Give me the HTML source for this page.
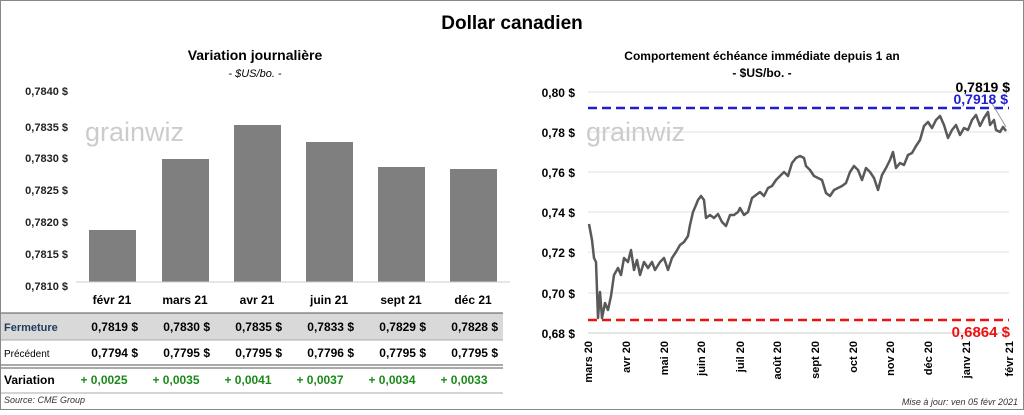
<!DOCTYPE html>
<html><head><meta charset="utf-8"><style>
body{margin:0;background:#fff;}
svg text{font-family:"Liberation Sans",Arial,sans-serif;}
</style></head><body>
<svg width="1024" height="410" xmlns="http://www.w3.org/2000/svg">
<rect x="0.5" y="0.5" width="1023" height="409" fill="#fff" stroke="#888"/>
<text x="512" y="29" font-size="19" font-weight="bold" text-anchor="middle">Dollar canadien</text>
<!-- LEFT -->
<text x="255" y="60" font-size="14" font-weight="bold" text-anchor="middle">Variation  journalière</text>
<text x="255" y="77" font-size="11" font-style="italic" text-anchor="middle">- $US/bo. -</text>
<g font-size="11" font-weight="bold" text-anchor="end" fill="#222">
<text x="68" y="95">0,7840 $</text><text x="68" y="131">0,7835 $</text><text x="68" y="162">0,7830 $</text>
<text x="68" y="194">0,7825 $</text><text x="68" y="226">0,7820 $</text><text x="68" y="258">0,7815 $</text><text x="68" y="290">0,7810 $</text>
</g>
<text x="85" y="141" font-size="27" fill="#ccc">grain</text><text x="145" y="141" font-size="27" fill="#ccc">wiz</text>
<g fill="#7f7f7f">
<rect x="89" y="230" width="47" height="52"/><rect x="162" y="159" width="47" height="123"/>
<rect x="234" y="125" width="47" height="157"/><rect x="306" y="142" width="47" height="140"/>
<rect x="378" y="167" width="47" height="115"/><rect x="450" y="169" width="47" height="113"/>
</g>
<line x1="76" y1="282" x2="510" y2="282" stroke="#ccc"/>
<g font-size="12" font-weight="bold" text-anchor="middle">
<text x="112" y="304">févr 21</text><text x="185" y="304">mars 21</text><text x="257" y="304">avr 21</text>
<text x="329" y="304">juin 21</text><text x="401" y="304">sept 21</text><text x="473" y="304">déc 21</text>
</g>
<rect x="1" y="313" width="502" height="27" fill="#d9d9d9"/>
<line x1="1" y1="313" x2="503" y2="313" stroke="#555"/>
<line x1="1" y1="340" x2="503" y2="340" stroke="#aaa"/>
<line x1="1" y1="365" x2="503" y2="365" stroke="#555"/><line x1="1" y1="368" x2="503" y2="368" stroke="#555"/>
<line x1="1" y1="393" x2="503" y2="393" stroke="#aaa"/>
<text x="4" y="331" font-size="11" font-weight="bold" fill="#1f3a5f">Fermeture</text>
<text x="4" y="357" font-size="10">Précédent</text>
<text x="4" y="384" font-size="12" font-weight="bold">Variation</text>
<g font-size="12" font-weight="bold" text-anchor="end">
<text x="138" y="331">0,7819  $</text><text x="210" y="331">0,7830  $</text><text x="282" y="331">0,7835  $</text><text x="354" y="331">0,7833  $</text><text x="426" y="331">0,7829  $</text><text x="498" y="331">0,7828  $</text>
<text x="138" y="357">0,7794  $</text><text x="210" y="357">0,7795  $</text><text x="282" y="357">0,7795  $</text><text x="354" y="357">0,7796  $</text><text x="426" y="357">0,7795  $</text><text x="498" y="357">0,7795  $</text>
</g>
<g font-size="12" font-weight="bold" fill="#1a8a1a" text-anchor="middle">
<text x="104" y="384">+ 0,0025</text><text x="176" y="384">+ 0,0035</text><text x="248" y="384">+ 0,0041</text><text x="320" y="384">+ 0,0037</text><text x="392" y="384">+ 0,0034</text><text x="464" y="384">+ 0,0033</text>
</g>
<text x="4" y="403" font-size="9" font-style="italic" fill="#333">Source: CME Group</text>
<!-- RIGHT -->
<text x="762" y="60" font-size="12" font-weight="bold" text-anchor="middle">Comportement échéance immédiate depuis 1 an</text>
<text x="762" y="77" font-size="12" font-weight="bold" text-anchor="middle">- $US/bo. -</text>
<g stroke="#e0e0e0"><line x1="588" y1="92" x2="1009" y2="92"/><line x1="588" y1="132" x2="1009" y2="132"/><line x1="588" y1="172" x2="1009" y2="172"/><line x1="588" y1="212" x2="1009" y2="212"/><line x1="588" y1="252" x2="1009" y2="252"/><line x1="588" y1="293" x2="1009" y2="293"/></g>
<line x1="588" y1="333" x2="1009" y2="333" stroke="#ccc"/>
<g font-size="12" font-weight="bold" text-anchor="end">
<text x="575" y="97">0,80 $</text><text x="575" y="137">0,78 $</text><text x="575" y="177">0,76 $</text><text x="575" y="217">0,74 $</text><text x="575" y="257">0,72 $</text><text x="575" y="298">0,70 $</text><text x="575" y="338">0,68 $</text>
</g>
<text x="586" y="141" font-size="27" fill="#ccc">grain</text><text x="646" y="141" font-size="27" fill="#ccc">wiz</text>
<line x1="588" y1="108" x2="1009" y2="108" stroke="#1f1fcf" stroke-width="2.5" stroke-dasharray="9,5"/>
<line x1="588" y1="320" x2="1009" y2="320" stroke="#f01010" stroke-width="2.5" stroke-dasharray="9,5"/>
<polyline fill="none" stroke="#595959" stroke-width="2.5" stroke-linejoin="round" points="589,224 592,240 594,258 596,262 598,318 600,292 602,318 605,303 608,310 611,296 614,275 618,268 621,275 624,258 628,262 631,250 634,270 637,260 640,275 644,262 648,268 652,262 655,270 660,262 664,258 668,270 672,258 676,252 680,245 684,242 688,236 690,225 693,212 696,205 698,200 701,196 704,200 706,218 710,215 714,218 718,214 722,222 726,226 730,215 734,215 738,212 740,208 744,215 748,212 752,198 756,195 760,192 764,196 768,188 772,186 776,180 780,176 784,172 788,176 792,163 796,158 800,156 804,158 806,166 810,170 814,176 818,178 822,180 826,193 830,196 834,190 838,188 842,186 846,183 850,172 854,166 858,170 862,180 866,168 870,172 874,178 878,190 882,175 886,168 890,160 893,152 896,168 900,163 904,165 908,155 912,153 916,146 920,140 924,126 928,122 932,128 936,120 940,116 944,125 948,138 952,130 956,125 960,135 964,128 968,130 972,120 976,115 980,126 984,118 988,112 990,125 994,120 996,130 1000,132 1003,127 1006,131"/>
<line x1="990" y1="100" x2="1006" y2="127" stroke="#999" stroke-width="1"/>
<text x="1010" y="92" font-size="14" font-weight="bold" text-anchor="end">0,7819 $</text>
<text x="1008" y="104" font-size="14" font-weight="bold" fill="#1f1fcf" text-anchor="end">0,7918  $</text>
<text x="1010" y="337" font-size="15" font-weight="bold" fill="#f01010" text-anchor="end">0,6864  $</text>
<g font-size="11" font-weight="bold" text-anchor="end">
<text transform="translate(592,341) rotate(-90)">mars 20</text>
<text transform="translate(630,341) rotate(-90)">avr 20</text>
<text transform="translate(668,341) rotate(-90)">mai 20</text>
<text transform="translate(705,341) rotate(-90)">juin 20</text>
<text transform="translate(744,341) rotate(-90)">juil 20</text>
<text transform="translate(781,341) rotate(-90)">août 20</text>
<text transform="translate(819,341) rotate(-90)">sept 20</text>
<text transform="translate(857,341) rotate(-90)">oct 20</text>
<text transform="translate(894,341) rotate(-90)">nov 20</text>
<text transform="translate(932,341) rotate(-90)">déc 20</text>
<text transform="translate(970,341) rotate(-90)">janv 21</text>
<text transform="translate(1013,341) rotate(-90)">févr 21</text>
</g>
<text x="1018" y="405" font-size="9" font-style="italic" fill="#333" text-anchor="end">Mise à jour: ven 05 févr 2021</text>
</svg>
</body></html>
